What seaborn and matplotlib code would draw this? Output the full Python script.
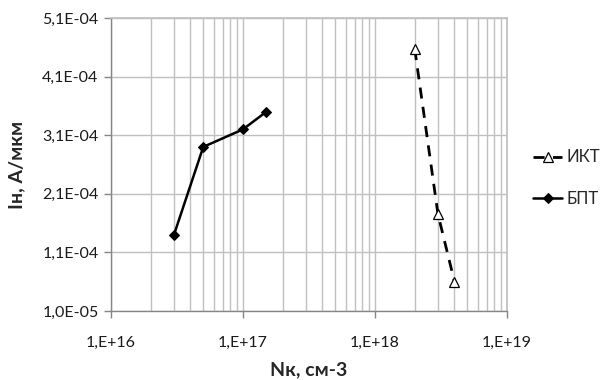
import numpy as np
import pandas as pd
import matplotlib
matplotlib.use("Agg")
import matplotlib.pyplot as plt
import seaborn as sns
from matplotlib.ticker import FixedLocator, NullFormatter, LogLocator

# Data
ikt_x = [2e18, 3e18, 4e18]
ikt_y = [4.57e-4, 1.75e-4, 6.0e-5]
bpt_x = [3e16, 5e16, 1e17, 1.5e17]
bpt_y = [1.40e-4, 2.90e-4, 3.20e-4, 3.50e-4]
series_names = ["ИКТ", "БПТ"]
y_ticks = [1.0e-5, 1.1e-4, 2.1e-4, 3.1e-4, 4.1e-4, 5.1e-4]
y_tick_labels = ["1,0E-05", "1,1E-04", "2,1E-04", "3,1E-04", "4,1E-04", "5,1E-04"]
x_ticks = [1e16, 1e17, 1e18, 1e19]
x_tick_labels = ["1,E+16", "1,E+17", "1,E+18", "1,E+19"]
x_label = "Nк, см-3"
y_label = "Iн, А/мкм"

sns.set_theme(style="white")
plt.rcParams['font.family'] = ['Lato', 'DejaVu Sans']

fig = plt.figure(figsize=(6.11, 3.80), dpi=100)
ax = fig.add_axes([111/611, 1-311/380, (507-111)/611, (311-18)/380])

grid_c = "#c0c0c0"
ax.set_xscale("log")
ax.set_xlim(1e16, 1e19)
ax.set_ylim(1.0e-5, 5.1e-4)

ax.xaxis.set_major_locator(FixedLocator(x_ticks))
ax.xaxis.set_minor_locator(LogLocator(base=10, subs=np.arange(2, 10)))
ax.xaxis.set_minor_formatter(NullFormatter())
ax.set_xticks(x_ticks)
ax.set_xticklabels(x_tick_labels)
ax.set_yticks(y_ticks)
ax.set_yticklabels(y_tick_labels)

ax.grid(True, which="major", axis="both", color=grid_c, lw=1.0)
ax.grid(True, which="minor", axis="x", color=grid_c, lw=1.0)
ax.set_axisbelow(True)

sns.lineplot(x=ikt_x, y=ikt_y, ax=ax, sort=False, color="black", lw=2.0,
             marker="^", markersize=7, markerfacecolor="white",
             markeredgecolor="black", markeredgewidth=0.9, label=series_names[0])
ax.lines[-1].set_dashes([4, 3])
sns.lineplot(x=bpt_x, y=bpt_y, ax=ax, sort=False, color="black", lw=1.8,
             marker="D", markersize=5, markerfacecolor="black",
             markeredgecolor="black", label=series_names[1])

for s in ["top", "right"]:
    ax.spines[s].set_color(grid_c)
for s in ["left", "bottom"]:
    ax.spines[s].set_color("#868686")
    ax.spines[s].set_linewidth(1.0)

ax.tick_params(axis="both", which="major", direction="out", length=5, width=1,
               color="#868686", labelsize=11.5, labelcolor="#1a1a1a", pad=4, left=True, bottom=True)
ax.tick_params(axis="x", which="minor", length=0)
ax.tick_params(axis="x", pad=13)

ax.set_xlabel(x_label, fontsize=14, fontweight="bold", labelpad=8)
ax.set_ylabel(y_label, fontsize=14, fontweight="bold", labelpad=12)

leg = ax.legend(loc="center left", bbox_to_anchor=(530/611, 1-178/380),
                bbox_transform=fig.transFigure, frameon=False, fontsize=12,
                handlelength=1.7, labelspacing=1.5, handletextpad=0.3,
                borderpad=0.2, borderaxespad=0.0)

fig.savefig("out.png", dpi=100)
